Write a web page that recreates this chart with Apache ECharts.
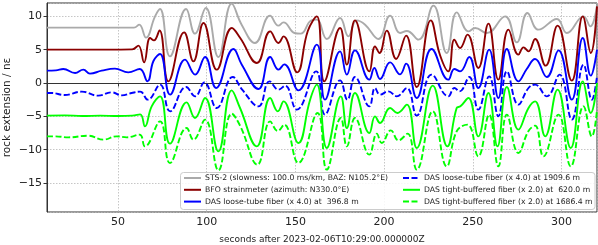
<!DOCTYPE html>
<html>
<head>
<meta charset="utf-8">
<script src="https://cdn.jsdelivr.net/npm/echarts@6/dist/echarts.min.js"></script>
<style>html,body{margin:0;padding:0;background:#fff}#c{width:598px;height:245px}</style>
</head>
<body>
<div id="c"></div>
<script>
const xTicks = [50, 100, 150, 200, 250, 300];
const yTicks = [-15, -10, -5, 0, 5, 10];

const stsT = [10, 30, 59, 62, 65.8, 70.9, 73.7, 79.3, 88.4, 93.4, 99.5, 106.6, 114.1, 119.7, 127.2, 135.7, 140.4, 143.3, 149.5, 153, 159, 162, 167.7, 175.2, 179.9, 184.6, 189.3, 196.8, 203.4, 209, 212.8, 219.4, 227.8, 235.3, 241, 247.6, 251.3, 257.9, 268.2, 274.8, 280.8, 287, 297.4, 303, 312.4, 316.2, 320];
const stsV = [8.3, 8.3, 8.3, 8.75, 6.8, 10.0, 11.1, 4.0, 11.1, 7.4, 11.25, 3.9, 11.9, 8.75, 6.0, 10.1, 8.6, 9.1, 7.5, 7.4, 9.4, 9.5, 6.6, 9.75, 7.0, 9.4, 8.75, 6.6, 10.1, 7.5, 7.8, 6.5, 11.6, 4.5, 10.6, 7.75, 8.25, 7.5, 10.0, 6.1, 10.5, 8.0, 9.6, 7.5, 10.0, 8.5, 11.6];

const bfoT = [10, 30, 58, 61.5, 64.7, 68.1, 70.3, 73.4, 78.4, 87.3, 92.5, 98.2, 105.7, 114.2, 118.9, 128.3, 135.8, 140.5, 143.3, 151, 157, 162.1, 166.3, 175.2, 179, 183.6, 191.7, 194.9, 197.4, 201.5, 206.8, 212.4, 218.4, 226.3, 231.5, 236.2, 239.6, 242.8, 247, 253.1, 258.8, 264.4, 270.1, 275.7, 278.6, 281.4, 285.1, 291, 297.8, 305.8, 312, 316.5, 320];
const bfoV = [5.0, 5.0, 5.05, 5.6, 3.1, 6.75, 6.4, 7.9, 0.25, 7.6, 3.25, 9.0, 2.0, 8.25, 6.75, 3.0, 7.75, 6.0, 7.0, 1.6, 7.8, 10.0, 0.25, 8.25, 2.75, 9.4, 1.75, 5.5, 4.5, 7.85, 3.6, 7.1, -0.6, 9.4, 4.2, 1.75, 6.5, 5.25, 7.25, 2.25, 8.9, 0.5, 8.0, 4.25, 5.35, 4.75, 6.6, 2.6, 8.6, 0.35, 10.0, 4.5, 11.5];

const das1T = [10, 15, 19.2, 25.8, 30.5, 34.2, 40.8, 48.3, 55.8, 62.3, 66.6, 70, 73.7, 79.4, 87.8, 93.5, 99.1, 105.3, 115.1, 119.8, 129.2, 135.8, 140.5, 143.7, 151.7, 162.1, 166.7, 175.2, 179, 183.6, 191.7, 194.5, 197.7, 203.4, 209, 212.4, 218.4, 226.8, 236.2, 239.6, 242.8, 248, 253.1, 259.2, 264.4, 269.2, 275.7, 280.4, 285.1, 291.7, 298.3, 305.8, 312, 316.5, 320];
const das1V = [1.85, 1.9, 2.1, 1.5, 2.0, 1.4, 1.85, 2.15, 1.6, 2.1, 0.25, 3.3, 4.35, -1.75, 3.5, 1.25, 3.9, -0.75, 5.1, 2.75, -0.9, 3.9, 2.0, 2.8, -1.1, 5.75, -2.5, 4.75, 1.25, 4.9, 0.5, 2.25, 0.6, 3.1, 1.3, 2.9, -2.25, 5.1, 0.5, 2.1, 1.75, 3.9, -0.75, 5.0, -2.25, 5.1, 0.25, 2.1, 3.6, 0.9, 4.9, -2.5, 6.75, 1.1, 5.0];

const das2T = [10, 12.6, 19.9, 29.6, 38.9, 46.5, 52.1, 57.7, 62.5, 66.8, 73.7, 79.4, 88.4, 93.5, 98.7, 105.7, 114.7, 120, 129.2, 135.4, 140.5, 144.2, 150.8, 161.7, 166.7, 175.2, 179.3, 183.6, 191.7, 194.9, 197.7, 202.4, 207.1, 212.8, 218.4, 226.8, 236.2, 239.6, 242.5, 248, 253.1, 259.2, 264.4, 269.2, 275.7, 281.4, 285.1, 291.7, 298.9, 305.8, 312.4, 317.1, 320];
const das2V = [-1.5, -1.5, -1.8, -1.3, -1.9, -1.4, -1.85, -1.5, -1.3, -2.5, -0.25, -4.25, -0.6, -2.0, 0.1, -3.75, 0.9, -1.0, -3.5, 0.25, -1.0, -0.4, -4.0, 1.75, -4.75, 0.4, -2.5, 0.9, -3.5, -0.75, -1.75, -1.25, -2.0, -0.75, -4.9, 1.25, -2.0, -0.75, -1.25, 0.9, -4.0, 1.0, -5.0, 1.75, -3.25, -0.75, -0.25, -2.0, 1.25, -5.5, 2.75, -2.5, 1.0];

const das3T = [10, 20, 30, 40, 50, 58, 62.5, 65.2, 69, 73.7, 79.3, 88.7, 93.4, 99.1, 106.6, 114.1, 118.8, 128.2, 135.8, 140.1, 143.3, 151.7, 158.3, 162.1, 167.7, 175.6, 179, 183.6, 191.7, 194.9, 197.7, 203.4, 207.5, 212.8, 218.4, 227.4, 235.7, 240.9, 243, 247.5, 253.1, 258.8, 263.9, 269.2, 275.7, 281.4, 285.1, 290.8, 297.8, 305.2, 312, 316.5, 320];
const das3V = [-4.9, -4.85, -4.95, -4.9, -4.95, -4.9, -4.7, -6.5, -3.5, -2.0, -9.1, -2.9, -5.25, -2.25, -10.25, -1.1, -3.75, -9.5, -2.25, -4.25, -2.75, -9.0, -2.5, -0.25, -9.75, -2.0, -6.75, -1.5, -7.5, -5.0, -6.0, -3.75, -4.5, -3.25, -9.75, -0.4, -9.5, -3.75, -3.5, -2.25, -8.0, -1.5, -9.5, -0.6, -7.0, -3.75, -2.75, -8.0, -1.0, -9.75, 0.25, -4.5, 0.0];

const das4T = [10, 14.6, 22.1, 33.3, 41.7, 49.3, 55, 62.2, 65.2, 73.7, 79.3, 88.7, 92.5, 99.1, 106.6, 114.1, 119, 128.6, 135.8, 140.1, 143.7, 151.7, 162.5, 167.7, 175.6, 179, 183.6, 191.7, 195.9, 198.7, 203.8, 208.1, 213.2, 218.4, 227.4, 235.3, 241, 247, 253.1, 259.2, 264.4, 269.2, 275.7, 281.4, 285.1, 289.8, 298.3, 305.2, 312.4, 317.1, 320];
const das4V = [-8.0, -8.0, -8.15, -7.9, -8.5, -8.0, -8.15, -7.75, -9.5, -5.75, -12.0, -6.75, -8.5, -5.5, -13.1, -4.6, -6.5, -12.25, -5.75, -7.2, -6.25, -12.0, -4.5, -13.0, -5.25, -9.5, -5.25, -10.75, -7.6, -9.0, -7.1, -8.6, -7.6, -13.0, -4.25, -12.5, -7.2, -6.25, -11.0, -4.75, -12.5, -4.75, -10.5, -7.2, -6.4, -11.0, -4.75, -12.5, -3.5, -8.0, -4.0];

const legendNames = [
  'STS-2 (slowness: 100.0 ms/km, BAZ: N105.2°E)',
  'BFO strainmeter (azimuth: N330.0°E)',
  'DAS loose-tube fiber (x 4.0) at  396.8 m',
  'DAS loose-tube fiber (x 4.0) at 1909.6 m',
  'DAS tight-buffered fiber (x 2.0) at  620.0 m',
  'DAS tight-buffered fiber (x 2.0) at 1686.4 m'
];
const colors = ['#aaaaaa', '#8b0000', '#0000ff', '#0000ff', '#00ff00', '#00ff00'];
const dashed = [false, false, false, true, false, true];
const Ts = [stsT, bfoT, das1T, das2T, das3T, das4T];
const Vs = [stsV, bfoV, das1V, das2V, das3V, das4V];

const FONT = 'DejaVu Sans';
const chart = echarts.init(document.getElementById('c'), null, {renderer: 'canvas'});

const series = legendNames.map((n, i) => ({
  name: n,
  type: 'line',
  data: Ts[i].map((t, k) => [t, Vs[i][k]]),
  smooth: 0.45,
  symbol: 'none',
  showSymbol: false,
  clip: true,
  animation: false,
  lineStyle: {color: colors[i], width: 1.9, type: dashed[i] ? [6, 2.5] : 'solid'},
  itemStyle: {color: colors[i]},
  z: 2 + i
}));

const legendCommon = {
  orient: 'vertical',
  top: 174,
  itemWidth: 17,
  itemHeight: 8,
  itemGap: 3.8,
  padding: 0,
  z: 60,
  selectedMode: false,
  itemStyle: {color: 'rgba(0,0,0,0)', borderWidth: 0, opacity: 0},
  textStyle: {fontFamily: FONT, fontSize: 7.7, color: '#222', padding: [0, 0, 0, -1]},
};

const minusFmt = v => String(v).replace('-', '\u2212');

chart.setOption({
  animation: false,
  backgroundColor: '#fff',
  grid: {left: 47, top: 3, width: 550, height: 209, containLabel: false, outerBoundsMode: 'none',
         show: true, borderColor: '#333', borderWidth: 1, backgroundColor: 'transparent'},
  xAxis: {
    type: 'value', min: 10, max: 320, splitNumber: 6,
    name: 'seconds after 2023-02-06T10:29:00.000000Z',
    nameLocation: 'middle', nameGap: 23, nameMoveOverlap: false,
    nameTextStyle: {fontFamily: FONT, fontSize: 9, color: '#222'},
    axisLine: {show: true, lineStyle: {color: '#333'}},
    axisTick: {show: true, length: 3.5, lineStyle: {color: '#333'}},
    axisLabel: {fontFamily: FONT, fontSize: 11, color: '#222', margin: 5, showMinLabel: false, showMaxLabel: false, formatter: minusFmt},
    splitLine: {show: true, lineStyle: {color: '#b8b8b8', type: [1.5, 1.5], width: 0.8}}
  },
  yAxis: {
    type: 'value', min: -19.35, max: 12, splitNumber: 6,
    name: 'rock extension / nε',
    nameLocation: 'middle', nameGap: 34, nameMoveOverlap: false,
    nameTextStyle: {fontFamily: FONT, fontSize: 10.5, color: '#222'},
    axisLine: {show: true, lineStyle: {color: '#333'}},
    axisTick: {show: true, length: 3.5, lineStyle: {color: '#333'}},
    axisLabel: {fontFamily: FONT, fontSize: 11, color: '#222', margin: 5, showMinLabel: false, showMaxLabel: false, formatter: minusFmt},
    splitLine: {show: true, lineStyle: {color: '#b8b8b8', type: [1.5, 1.5], width: 0.8}}
  },
  legend: [
    Object.assign({}, legendCommon, {left: 183, data: legendNames.slice(0, 3)}),
    Object.assign({}, legendCommon, {left: 402, data: legendNames.slice(3, 6)})
  ],
  graphic: [{
    type: 'rect', z: 50,
    shape: {x: 180.5, y: 172.5, width: 414.5, height: 37, r: 3},
    style: {fill: 'rgba(255,255,255,0.85)', stroke: '#cccccc', lineWidth: 1}
  }],
  series: series
});
</script>
</body>
</html>
